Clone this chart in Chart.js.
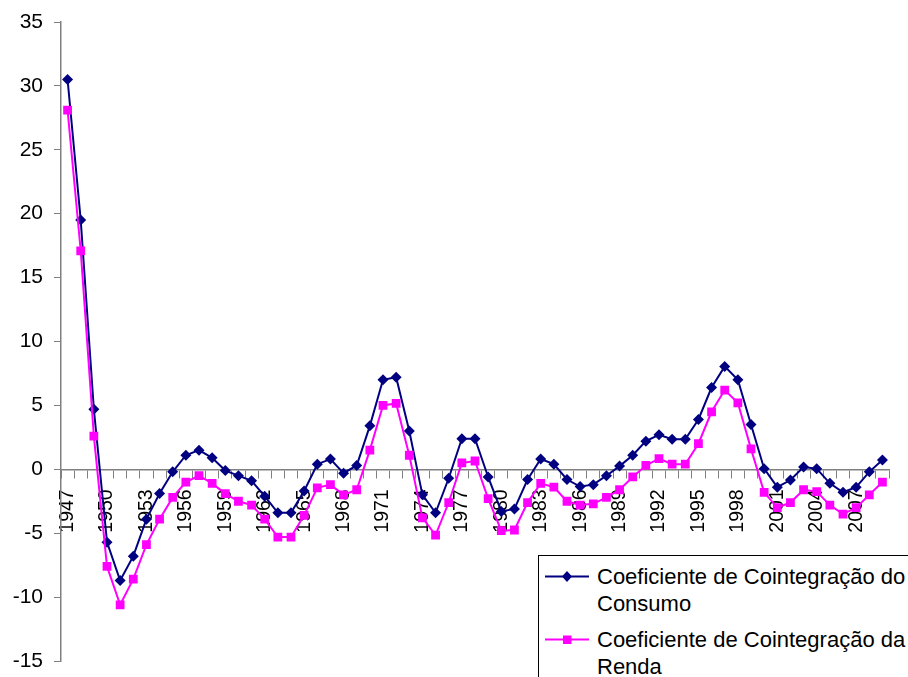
<!DOCTYPE html>
<html>
<head>
<meta charset="utf-8">
<script src="https://cdn.jsdelivr.net/npm/chart.js@4/dist/chart.umd.min.js"></script>
<style>
  html, body { margin: 0; padding: 0; background: #fff; overflow: hidden; }
  #wrap { position: relative; width: 908px; height: 677px; }
  #legend {
    position: absolute; left: 538px; top: 555px; width: 400px; height: 160px;
    border: 1px solid #000; background: #fff; box-sizing: border-box;
    font-family: "Liberation Sans", Arial, sans-serif; font-size: 22px; color: #000;
  }
  .item { position: absolute; left: 0; }
  .item svg { position: absolute; left: 6px; top: 0; }
  .item .txt { position: absolute; left: 58px; top: 0; line-height: 27px; white-space: nowrap; }
</style>
</head>
<body>
<div id="wrap">
  <canvas id="c" width="908" height="677"></canvas>
  <div id="legend"></div>
</div>
<script>
const years = [];
for (let y = 1947; y <= 2009; y++) years.push(String(y));

const tickLabels = ['1947','1950','1953','1956','1959','1962','1965','1968','1971','1974',
  '1977','1980','1983','1986','1989','1992','1995','1998','2001','2004','2007'];

const seriesNames = [
  ['Coeficiente de Cointegração do', 'Consumo'],
  ['Coeficiente de Cointegração da', 'Renda']
];

const consumo = [30.5, 19.5, 4.7, -5.7, -8.7, -6.8, -3.9, -1.9, -0.2, 1.1,
  1.5, 0.9, -0.1, -0.5, -0.9, -2.1, -3.4, -3.4, -1.7, 0.4,
  0.8, -0.3, 0.3, 3.4, 7.0, 7.2, 3.0, -2.0, -3.4, -0.7,
  2.4, 2.4, -0.6, -3.3, -3.1, -0.8, 0.8, 0.4, -0.8, -1.35,
  -1.2, -0.5, 0.25, 1.1, 2.2, 2.7, 2.35, 2.35, 3.9, 6.4,
  8.05, 7.0, 3.5, 0.05, -1.4, -0.84, 0.18, 0.05, -1.1, -1.8,
  -1.4, -0.2, 0.73];

const renda = [28.1, 17.1, 2.6, -7.6, -10.6, -8.6, -5.9, -3.9, -2.2, -1.0,
  -0.5, -1.1, -1.9, -2.5, -2.8, -3.9, -5.3, -5.3, -3.6, -1.45,
  -1.2, -2.0, -1.6, 1.5, 5.0, 5.15, 1.1, -3.8, -5.15, -2.6,
  0.5, 0.65, -2.3, -4.8, -4.75, -2.6, -1.1, -1.4, -2.5, -2.8,
  -2.7, -2.2, -1.6, -0.6, 0.3, 0.84, 0.4, 0.4, 2.0, 4.5,
  6.2, 5.2, 1.6, -1.8, -3.0, -2.6, -1.6, -1.75, -2.8, -3.5,
  -3.0, -2.0, -1.0];

const yMin = -15, yMax = 35, yStep = 5;

const navy = '#000080', magenta = '#FF00FF', axisColor = '#808080';
const fontFamily = '"Liberation Sans", Arial, sans-serif';

const chart = new Chart(document.getElementById('c'), {
  type: 'line',
  data: {
    labels: years,
    datasets: [
      {
        label: seriesNames[0].join(' '),
        data: consumo,
        borderColor: navy, backgroundColor: navy,
        borderWidth: 2, pointStyle: 'rectRot', pointRadius: 5.5,
        pointBorderWidth: 0, tension: 0, order: 1
      },
      {
        label: seriesNames[1].join(' '),
        data: renda,
        borderColor: magenta, backgroundColor: magenta,
        borderWidth: 2, pointStyle: 'rect', pointRadius: 6.2,
        pointBorderWidth: 0, tension: 0, order: 0
      }
    ]
  },
  options: {
    responsive: false,
    animation: false,
    layout: { padding: { left: 0, right: 19, top: 22, bottom: 16 } },
    plugins: { legend: { display: false }, tooltip: { enabled: false } },
    scales: {
      x: {
        type: 'category',
        position: { y: 0 },
        offset: true,
        afterFit: (s) => { s.height = 0; s.paddingLeft = 0; s.paddingRight = 0; },
        grid: { display: true, drawOnChartArea: false, offset: true, tickLength: 8, color: axisColor, lineWidth: 1 },
        border: { display: true, color: axisColor, width: 1.5 },
        ticks: {
          autoSkip: false, minRotation: 90, maxRotation: 90, padding: 12,
          color: '#000', font: { family: fontFamily, size: 19.5 },
          callback: function (v, i) { const l = this.getLabelForValue(v); return tickLabels.includes(l) ? l : ''; }
        }
      },
      y: {
        min: yMin, max: yMax,
        afterFit: (s) => { s.width = 61; s.paddingTop = 0; s.paddingBottom = 0; },
        grid: { display: true, drawOnChartArea: false, tickLength: 7, color: axisColor, lineWidth: 1 },
        border: { display: true, color: axisColor, width: 1.5 },
        ticks: { stepSize: yStep, padding: 11, color: '#000', font: { family: fontFamily, size: 21 } }
      }
    }
  }
});

// HTML legend built from the datasets
const legend = document.getElementById('legend');
const tops = [7, 70];
chart.data.datasets.forEach((ds, i) => {
  const item = document.createElement('div');
  item.className = 'item';
  item.style.top = tops[i] + 'px';
  const marker = ds.pointStyle === 'rectRot'
    ? `<polygon points="22,8 27,13.5 22,19 17,13.5" fill="${ds.borderColor}"/>`
    : `<rect x="18" y="9.5" width="8.5" height="8.5" fill="${ds.borderColor}"/>`;
  item.innerHTML = `<svg width="46" height="27"><line x1="0" y1="13.5" x2="44" y2="13.5" stroke="${ds.borderColor}" stroke-width="2"/>${marker}</svg>` +
    `<div class="txt">${seriesNames[i][0]}<br>${seriesNames[i][1]}</div>`;
  legend.appendChild(item);
});
</script>
</body>
</html>
